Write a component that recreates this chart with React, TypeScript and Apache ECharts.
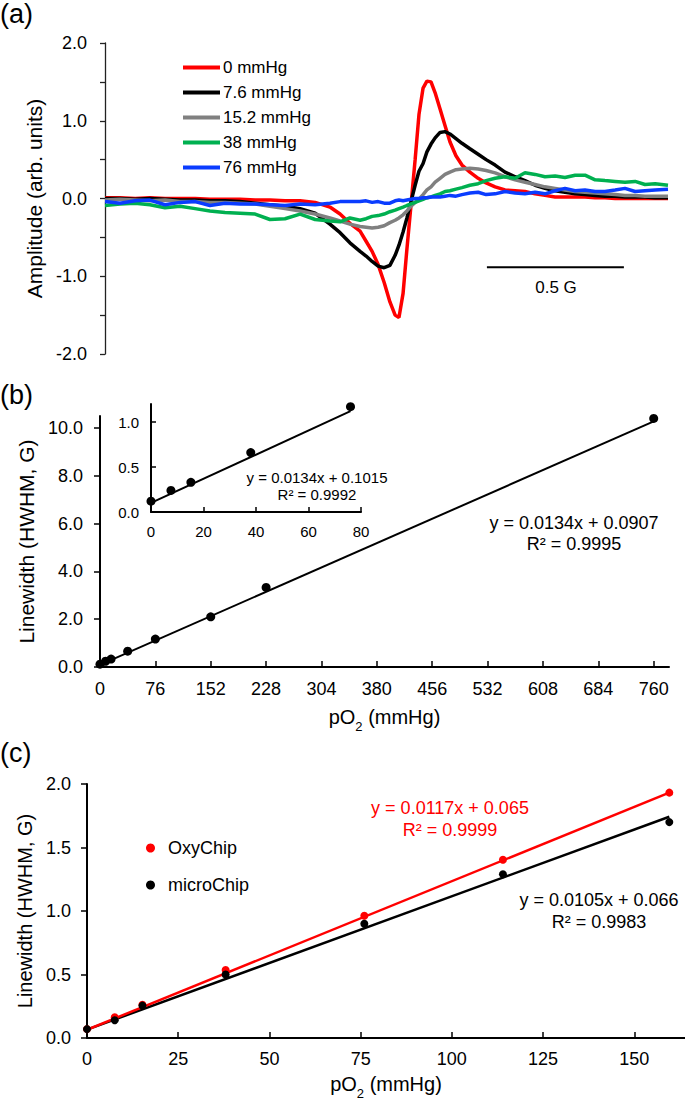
import React, { useEffect, useRef } from "react";
import * as echarts from "echarts";

// ---------- Panel (a): EPR spectra (field offset in G, amplitude in arb. units)
const fieldG = [
  -1.128, -1.073, -1.018, -0.964, -0.909, -0.854, -0.799, -0.745, -0.69, -0.635,
  -0.58, -0.526, -0.471, -0.416, -0.361, -0.307, -0.27, -0.234, -0.197, -0.175,
  -0.153, -0.131, -0.109, -0.088, -0.069, -0.055, -0.04, -0.026, -0.011, 0.004,
  0.018, 0.033, 0.047, 0.062, 0.077, 0.095, 0.113, 0.131, 0.153, 0.175,
  0.204, 0.234, 0.263, 0.296, 0.332, 0.369, 0.405, 0.442, 0.478, 0.515,
  0.551, 0.588, 0.624, 0.661, 0.697, 0.734, 0.77, 0.807, 0.843, 0.88, 0.927,
];
const amp0 = [
  0.01, 0.01, 0.0, 0.01, 0.0, 0.0, 0.0, -0.01, -0.01, -0.01,
  -0.02, -0.02, -0.03, -0.03, -0.05, -0.11, -0.2, -0.32, -0.42, -0.55,
  -0.68, -0.85, -1.08, -1.33, -1.5, -1.53, -1.22, -0.65, -0.08, 0.5,
  1.08, 1.42, 1.51, 1.5, 1.36, 1.15, 0.94, 0.73, 0.55, 0.43,
  0.34, 0.26, 0.2, 0.15, 0.11, 0.1, 0.09, 0.06, 0.04, 0.02,
  0.02, 0.02, 0.02, 0.01, 0.01, 0.0, 0.0, 0.0, 0.0, 0.0, 0.0,
];
const amp7_6 = [
  0.0, 0.0, -0.01, 0.0, -0.01, -0.02, -0.02, -0.03, -0.03, -0.04,
  -0.06, -0.08, -0.1, -0.13, -0.19, -0.33, -0.44, -0.57, -0.68, -0.74,
  -0.81, -0.87, -0.89, -0.86, -0.73, -0.6, -0.43, -0.25, -0.04, 0.17,
  0.35, 0.45, 0.6, 0.7, 0.78, 0.85, 0.86, 0.83, 0.77, 0.71,
  0.64, 0.57, 0.5, 0.43, 0.34, 0.28, 0.23, 0.17, 0.13, 0.1,
  0.08, 0.06, 0.05, 0.04, 0.03, 0.03, 0.02, 0.02, 0.02, 0.01, 0.01,
];
const amp15_2 = [
  -0.02, -0.01, -0.02, -0.03, -0.02, -0.04, -0.04, -0.05, -0.05, -0.06,
  -0.07, -0.1, -0.13, -0.16, -0.2, -0.25, -0.29, -0.33, -0.36, -0.37,
  -0.38, -0.37, -0.35, -0.31, -0.28, -0.25, -0.21, -0.16, -0.1, -0.05,
  -0.01, 0.05, 0.11, 0.15, 0.21, 0.26, 0.31, 0.34, 0.37, 0.38,
  0.39, 0.38, 0.36, 0.33, 0.28, 0.24, 0.21, 0.18, 0.15, 0.13,
  0.11, 0.09, 0.08, 0.07, 0.06, 0.05, 0.04, 0.04, 0.03, 0.03, 0.03,
];
const amp38 = [
  -0.09, -0.07, -0.06, -0.08, -0.12, -0.1, -0.13, -0.16, -0.18, -0.19,
  -0.2, -0.27, -0.26, -0.2, -0.27, -0.29, -0.3, -0.25, -0.28, -0.26,
  -0.23, -0.22, -0.2, -0.17, -0.15, -0.13, -0.11, -0.09, -0.07, -0.05,
  -0.03, -0.01, 0.01, 0.02, 0.04, 0.06, 0.09, 0.1, 0.12, 0.14,
  0.17, 0.19, 0.23, 0.26, 0.28, 0.26, 0.33, 0.31, 0.28, 0.29,
  0.27, 0.3, 0.3, 0.24, 0.23, 0.22, 0.21, 0.22, 0.18, 0.19, 0.17,
];
const amp76 = [
  -0.04, -0.06, -0.03, -0.02, -0.08, -0.05, -0.04, -0.09, -0.06, -0.07,
  -0.07, -0.08, -0.09, -0.07, -0.08, -0.06, -0.04, -0.04, -0.04, -0.03,
  -0.05, -0.04, -0.06, -0.06, -0.03, -0.02, -0.03, -0.02, -0.01, 0.0,
  0.0, 0.01, 0.01, 0.02, 0.02, 0.02, 0.03, 0.04, 0.03, 0.05,
  0.07, 0.08, 0.05, 0.06, 0.09, 0.07, 0.06, 0.08, 0.06, 0.1,
  0.13, 0.1, 0.11, 0.09, 0.09, 0.11, 0.13, 0.09, 0.1, 0.11, 0.12,
];
const spectraNames = ["0 mmHg", "7.6 mmHg", "15.2 mmHg", "38 mmHg", "76 mmHg"];
const spectraAmps = [amp0, amp7_6, amp15_2, amp38, amp76];
const spectraColors = ["#ff0000", "#000000", "#808080", "#00b050", "#0a3cff"];
const ampTicks = ["-2.0", "-1.0", "0.0", "1.0", "2.0"];

// ---------- Panel (b): linewidth vs pO2
const pO2B = [0, 7.6, 15.2, 38, 76, 152, 228, 760];
const lwB = [0.12, 0.24, 0.33, 0.66, 1.17, 2.1, 3.33, 10.4];
const pO2BTicks = [0, 76, 152, 228, 304, 380, 456, 532, 608, 684, 760];
const lwBTicks = [0, 2, 4, 6, 8, 10];
const fitB = { slope: 0.0134, intercept: 0.0907, r2: "0.9995" };
const insetCount = 5;
const fitInset = { slope: 0.0134, intercept: 0.1015, r2: "0.9992" };
const insetXTicks = [0, 20, 40, 60, 80];
const insetYTicks = [0, 0.5, 1.0];

// ---------- Panel (c): OxyChip vs microChip
const pO2C = [0, 7.6, 15.2, 38, 76, 114, 159.6];
const oxyChip = [0.07, 0.163, 0.262, 0.535, 0.963, 1.403, 1.932];
const microChip = [0.07, 0.14, 0.255, 0.5, 0.9, 1.29, 1.7];
const fitOxy = { slope: 0.0117, intercept: 0.065, r2: "0.9999" };
const fitMicro = { slope: 0.0105, intercept: 0.066, r2: "0.9983" };
const pO2CTicks = [0, 25, 50, 75, 100, 125, 150];

const FONT = "'Liberation Sans', Arial, sans-serif";

function fitLine(xs: number[], f: { slope: number; intercept: number }) {
  const x0 = Math.min(...xs);
  const x1 = Math.max(...xs);
  return [
    [x0, f.intercept + f.slope * x0],
    [x1, f.intercept + f.slope * x1],
  ];
}

const subRich = {
  s: { fontSize: 13, verticalAlign: "bottom", padding: [0, 0, -6, 0], fontFamily: FONT, color: "#000" },
};

export default function App() {
  const ref = useRef<HTMLDivElement>(null);
  useEffect(() => {
    if (!ref.current) return;
    const chart = echarts.init(ref.current, undefined, { renderer: "svg" });
    const black = "#000";
    const axisLine = (w: number) => ({ show: true, onZero: false, lineStyle: { color: black, width: w } });

    const spectraSeries = spectraNames.map((name, k) => ({
      name,
      type: "line",
      xAxisIndex: 0,
      yAxisIndex: 0,
      data: fieldG.map((b, i) => [b, spectraAmps[k][i]]),
      showSymbol: false,
      symbol: "none",
      lineStyle: { color: spectraColors[k], width: 3.5 },
      itemStyle: { color: spectraColors[k] },
      z: 2 + k,
    }));

    const option: any = {
      animation: false,
      textStyle: { fontFamily: FONT, color: black },
      grid: [
        { left: 105, top: 43, width: 563, height: 311 },
        { left: 100, top: 416, width: 569, height: 251 },
        { left: 151, top: 404, width: 210, height: 108 },
        { left: 87, top: 784, width: 598, height: 257 },
      ],
      legend: [
        {
          data: spectraNames,
          orient: "vertical",
          left: 178,
          top: 54,
          itemWidth: 37,
          itemHeight: 4,
          itemGap: 8,
          icon: "rect",
          textStyle: { fontSize: 17, color: black, fontFamily: FONT, lineHeight: 17, padding: [0, 0, 0, -2] },
        },
        {
          data: ["OxyChip", "microChip"],
          orient: "vertical",
          left: 141,
          top: 834,
          itemWidth: 9,
          itemHeight: 9,
          itemGap: 19,
          icon: "circle",
          textStyle: { fontSize: 18, color: black, fontFamily: FONT, lineHeight: 18, padding: [0, 0, 0, 8] },
        },
      ],
      xAxis: [
        { gridIndex: 0, type: "value", min: -1.128, max: 0.927, show: false },
        {
          gridIndex: 1,
          type: "value",
          min: 0,
          max: 781,
          axisLine: axisLine(2),
          axisTick: { show: true, inside: true, length: 6, lineStyle: { color: black, width: 1.5 }, customValues: pO2BTicks },
          axisLabel: { customValues: pO2BTicks, fontSize: 18, color: black, margin: 13, fontFamily: FONT },
          splitLine: { show: false },
          name: "pO{s|2} (mmHg)",
          nameLocation: "middle",
          nameGap: 40,
          nameTextStyle: { fontSize: 20, color: black, fontFamily: FONT, rich: subRich },
        },
        {
          gridIndex: 2,
          type: "value",
          min: 0,
          max: 80,
          axisLine: axisLine(2),
          axisTick: { show: true, inside: true, length: 5, lineStyle: { color: black, width: 1.5 }, customValues: insetXTicks },
          axisLabel: { customValues: insetXTicks, fontSize: 15, color: black, margin: 12, fontFamily: FONT },
          splitLine: { show: false },
        },
        {
          gridIndex: 3,
          type: "value",
          min: 0,
          max: 163.9,
          axisLine: axisLine(2),
          axisTick: { show: true, inside: true, length: 6, lineStyle: { color: black, width: 1.5 }, customValues: pO2CTicks },
          axisLabel: { customValues: pO2CTicks, fontSize: 18, color: black, margin: 12, fontFamily: FONT },
          splitLine: { show: false },
          name: "pO{s|2} (mmHg)",
          nameLocation: "middle",
          nameGap: 36,
          nameTextStyle: { fontSize: 20, color: black, fontFamily: FONT, rich: subRich },
        },
      ],
      yAxis: [
        {
          gridIndex: 0,
          type: "value",
          min: -2,
          max: 2,
          interval: 0.5,
          axisLine: { show: true, onZero: false, lineStyle: { color: "#222", width: 1.3 } },
          axisTick: { show: true, inside: false, length: 5, lineStyle: { color: "#222", width: 1.3 } },
          axisLabel: {
            fontSize: 18,
            color: black,
            margin: 18,
            fontFamily: FONT,
            formatter: (v: number) => {
              const r = Math.round(v);
              return Math.abs(v - r) < 1e-6 ? ampTicks[r + 2] : "";
            },
          },
          splitLine: { show: false },
          name: "Amplitude (arb. units)",
          nameLocation: "middle",
          nameGap: 60,
          nameTextStyle: { fontSize: 21, color: black, fontFamily: FONT },
        },
        {
          gridIndex: 1,
          type: "value",
          min: 0,
          max: 10.5,
          axisLine: axisLine(2),
          axisTick: { show: true, inside: false, length: 6, lineStyle: { color: black, width: 1.5 }, customValues: lwBTicks },
          axisLabel: {
            customValues: lwBTicks,
            fontSize: 18,
            color: black,
            margin: 17,
            fontFamily: FONT,
            formatter: (v: number) => v.toFixed(1),
          },
          splitLine: { show: false },
          name: "Linewidth (HWHM, G)",
          nameLocation: "middle",
          nameGap: 63,
          nameTextStyle: { fontSize: 21, color: black, fontFamily: FONT },
        },
        {
          gridIndex: 2,
          type: "value",
          min: 0,
          max: 1.2,
          axisLine: axisLine(2),
          axisTick: { show: true, inside: true, length: 5, lineStyle: { color: black, width: 1.5 }, customValues: insetYTicks },
          axisLabel: {
            customValues: insetYTicks,
            fontSize: 15,
            color: black,
            margin: 12,
            fontFamily: FONT,
            formatter: (v: number) => v.toFixed(1),
          },
          splitLine: { show: false },
        },
        {
          gridIndex: 3,
          type: "value",
          min: 0,
          max: 2,
          interval: 0.5,
          axisLine: axisLine(2),
          axisTick: { show: true, inside: false, length: 6, lineStyle: { color: black, width: 1.5 } },
          axisLabel: {
            fontSize: 18,
            color: black,
            margin: 16,
            fontFamily: FONT,
            formatter: (v: number) => v.toFixed(1),
          },
          splitLine: { show: false },
          name: "Linewidth (HWHM, G)",
          nameLocation: "middle",
          nameGap: 52,
          nameTextStyle: { fontSize: 20, color: black, fontFamily: FONT },
        },
      ],
      series: [
        ...spectraSeries,
        {
          name: "scale bar",
          type: "line",
          xAxisIndex: 0,
          yAxisIndex: 0,
          data: [
            [0.266, -0.885],
            [0.766, -0.885],
          ],
          symbol: "none",
          lineStyle: { color: black, width: 2 },
        },
        {
          name: "b fit",
          type: "line",
          xAxisIndex: 1,
          yAxisIndex: 1,
          data: fitLine(pO2B, fitB),
          symbol: "none",
          lineStyle: { color: black, width: 2 },
        },
        {
          name: "b data",
          type: "scatter",
          xAxisIndex: 1,
          yAxisIndex: 1,
          data: pO2B.map((x, i) => [x, lwB[i]]),
          symbolSize: 9,
          itemStyle: { color: black, opacity: 1 },
          z: 5,
        },
        {
          name: "inset fit",
          type: "line",
          xAxisIndex: 2,
          yAxisIndex: 2,
          data: fitLine(pO2B.slice(0, insetCount), fitInset),
          symbol: "none",
          lineStyle: { color: black, width: 2 },
        },
        {
          name: "inset data",
          type: "scatter",
          xAxisIndex: 2,
          yAxisIndex: 2,
          data: pO2B.slice(0, insetCount).map((x, i) => [x, lwB[i]]),
          symbolSize: 9,
          itemStyle: { color: black, opacity: 1 },
          z: 5,
        },
        {
          name: "oxy fit",
          type: "line",
          xAxisIndex: 3,
          yAxisIndex: 3,
          data: fitLine(pO2C, fitOxy),
          symbol: "none",
          lineStyle: { color: "#ff0000", width: 2.5 },
          z: 4,
        },
        {
          name: "micro fit",
          type: "line",
          xAxisIndex: 3,
          yAxisIndex: 3,
          data: fitLine(pO2C, fitMicro),
          symbol: "none",
          lineStyle: { color: black, width: 2.5 },
          z: 3,
        },
        {
          name: "OxyChip",
          type: "scatter",
          xAxisIndex: 3,
          yAxisIndex: 3,
          data: pO2C.map((x, i) => [x, oxyChip[i]]),
          symbolSize: 8,
          itemStyle: { color: "#ff0000", opacity: 1 },
          z: 5,
        },
        {
          name: "microChip",
          type: "scatter",
          xAxisIndex: 3,
          yAxisIndex: 3,
          data: pO2C.map((x, i) => [x, microChip[i]]),
          symbolSize: 8,
          itemStyle: { color: black, opacity: 1 },
          z: 6,
        },
      ],
      graphic: [
        { type: "text", left: 0, top: 0, style: { text: "(a)", fontSize: 27, fontFamily: FONT, fill: black } },
        { type: "text", left: 0, top: 381, style: { text: "(b)", fontSize: 27, fontFamily: FONT, fill: black } },
        { type: "text", left: 0, top: 739, style: { text: "(c)", fontSize: 27, fontFamily: FONT, fill: black } },
        {
          type: "text",
          x: 556,
          y: 287,
          style: { text: "0.5 G", fontSize: 17, fontFamily: FONT, fill: black, align: "center", verticalAlign: "middle" },
        },
        {
          type: "text",
          x: 574,
          y: 523,
          style: {
            text: `y = ${fitB.slope}x + ${fitB.intercept}`,
            fontSize: 18,
            fontFamily: FONT,
            fill: black,
            align: "center",
            verticalAlign: "middle",
          },
        },
        {
          type: "text",
          x: 574,
          y: 544,
          style: { text: `R² = ${fitB.r2}`, fontSize: 18, fontFamily: FONT, fill: black, align: "center", verticalAlign: "middle" },
        },
        {
          type: "text",
          x: 317,
          y: 477,
          style: {
            text: `y = ${fitInset.slope}x + ${fitInset.intercept}`,
            fontSize: 15,
            fontFamily: FONT,
            fill: black,
            align: "center",
            verticalAlign: "middle",
          },
        },
        {
          type: "text",
          x: 317,
          y: 494,
          style: { text: `R² = ${fitInset.r2}`, fontSize: 15, fontFamily: FONT, fill: black, align: "center", verticalAlign: "middle" },
        },
        {
          type: "text",
          x: 450,
          y: 808,
          style: {
            text: `y = ${fitOxy.slope}x + ${fitOxy.intercept}`,
            fontSize: 18,
            fontFamily: FONT,
            fill: "#ff0000",
            align: "center",
            verticalAlign: "middle",
          },
        },
        {
          type: "text",
          x: 450,
          y: 830,
          style: { text: `R² = ${fitOxy.r2}`, fontSize: 18, fontFamily: FONT, fill: "#ff0000", align: "center", verticalAlign: "middle" },
        },
        {
          type: "text",
          x: 599,
          y: 900,
          style: {
            text: `y = ${fitMicro.slope}x + ${fitMicro.intercept}`,
            fontSize: 18,
            fontFamily: FONT,
            fill: black,
            align: "center",
            verticalAlign: "middle",
          },
        },
        {
          type: "text",
          x: 599,
          y: 922,
          style: { text: `R² = ${fitMicro.r2}`, fontSize: 18, fontFamily: FONT, fill: black, align: "center", verticalAlign: "middle" },
        },
      ],
    };
    chart.setOption(option);
    return () => chart.dispose();
  }, []);

  return (
    <div
      ref={ref}
      style={{ position: "absolute", left: 0, top: 0, width: 685, height: 1101, background: "#fff" }}
    />
  );
}
